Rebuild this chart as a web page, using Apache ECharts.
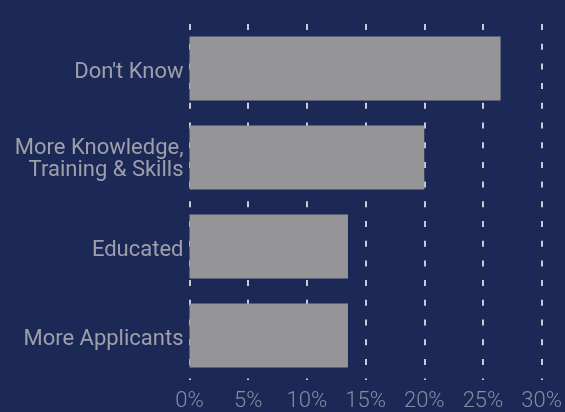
<!DOCTYPE html>
<html>
<head>
<meta charset="utf-8">
<script src="https://cdn.jsdelivr.net/npm/echarts@6/dist/echarts.min.js"></script>
<style>
  html, body { margin: 0; padding: 0; background: #1c2957; }
  #chart { width: 565px; height: 412px; }
</style>
</head>
<body>
<div id="chart"></div>
<script>
// Survey answers, top to bottom
const categories = ['Don\'t Know', 'More Knowledge,\nTraining & Skills', 'Educated', 'More Applicants'];
// Share of respondents (%)
const shares = [26.5, 20.0, 13.5, 13.5];
// Horizontal axis ticks (%)
const tickValues = [0, 5, 10, 15, 20, 25, 30];

const labelFont = { color: '#9da0aa', fontFamily: 'Roboto', fontSize: 22, lineHeight: 26 };

const chart = echarts.init(document.getElementById('chart'), null, { renderer: 'canvas' });

chart.setOption({
  backgroundColor: '#1c2957',
  animation: false,
  grid: { left: 189.5, right: 19.5, top: 24, bottom: 29, containLabel: false },
  xAxis: {
    type: 'value',
    min: tickValues[0],
    max: tickValues[tickValues.length - 1],
    interval: 5,
    axisLine: { show: false },
    axisTick: { show: false },
    axisLabel: {
      formatter: '{value}%',
      color: '#878ca0',
      fontFamily: 'Roboto',
      fontWeight: 300,
      fontSize: 22,
      margin: 10
    },
    splitLine: {
      show: true,
      lineStyle: { color: '#c9ccd6', width: 2, type: [6, 13.7] }
    }
  },
  yAxis: {
    type: 'category',
    inverse: true,
    data: categories,
    axisLine: { show: false },
    axisTick: { show: false },
    axisLabel: {
      ...labelFont,
      align: 'right',
      margin: 6,
      // first line carries a little top room so the block sits slightly low
      formatter: (v) => v.split('\n')
        .map((s, i) => (i === 0 ? '{p|' : '{t|') + s + '}')
        .join('\n'),
      rich: {
        p: { ...labelFont, padding: [8, 0, 0, 0] },
        t: { ...labelFont }
      }
    }
  },
  series: [{
    type: 'bar',
    data: shares,
    barCategoryGap: '28%',
    itemStyle: { color: '#959597' }
  }]
});
</script>
</body>
</html>
